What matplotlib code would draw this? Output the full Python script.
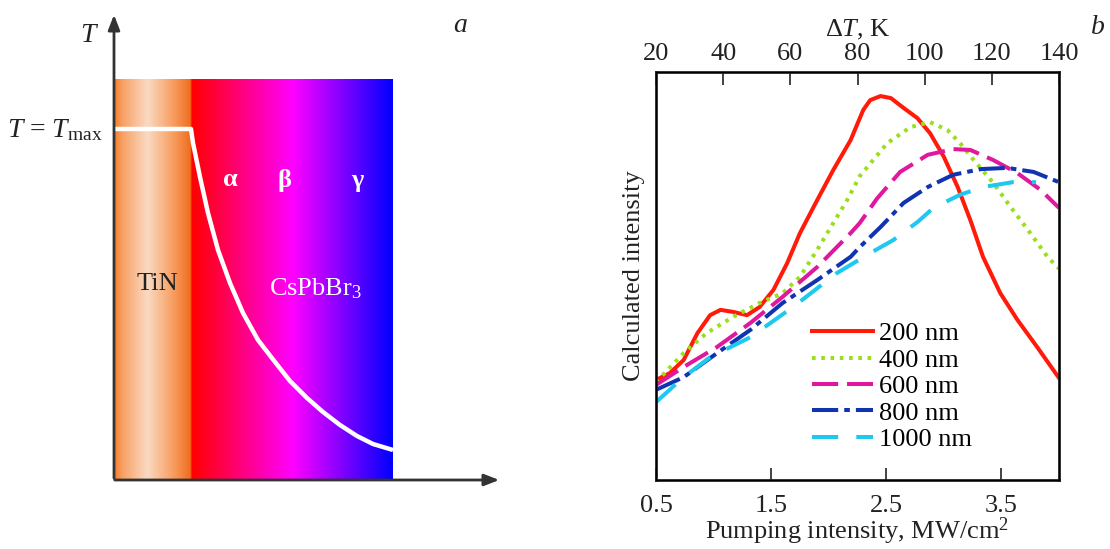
import matplotlib
matplotlib.use("Agg")
import matplotlib.pyplot as plt
import numpy as np

plt.rcParams['font.family'] = ['Liberation Serif', 'DejaVu Serif']
plt.rcParams['mathtext.fontset'] = 'custom'
plt.rcParams['mathtext.rm'] = 'Liberation Serif'
plt.rcParams['mathtext.it'] = 'Liberation Serif:italic'

# panel b data (intensity in arbitrary units 0..1)
x200 = [0.50, 0.62, 0.74, 0.86, 0.97, 1.06, 1.17, 1.29, 1.40, 1.52, 1.64, 1.75, 1.90, 2.04, 2.19, 2.30, 2.36, 2.45,
        2.54, 2.65, 2.77, 2.88, 3.00, 3.12, 3.23, 3.34, 3.49, 3.64, 3.81, 4.00]
y200 = [0.245, 0.262, 0.294, 0.360, 0.404, 0.417, 0.412, 0.404, 0.424, 0.466, 0.532, 0.605, 0.686, 0.760, 0.833,
        0.907, 0.931, 0.941, 0.936, 0.912, 0.887, 0.850, 0.792, 0.718, 0.637, 0.547, 0.458, 0.392, 0.326, 0.250]
x400 = [0.50, 0.74, 0.94, 1.17, 1.40, 1.60, 1.75, 1.90, 2.04, 2.16, 2.27, 2.51, 2.71, 2.88, 3.03, 3.14, 3.26, 3.43,
        3.58, 3.73, 3.90, 4.00]
y400 = [0.240, 0.311, 0.360, 0.400, 0.434, 0.458, 0.498, 0.564, 0.630, 0.686, 0.745, 0.826, 0.865, 0.877, 0.858,
        0.826, 0.784, 0.728, 0.669, 0.613, 0.547, 0.518]
x600 = [0.50, 0.74, 1.03, 1.32, 1.60, 1.90, 2.19, 2.27, 2.42, 2.62, 2.86, 3.08, 3.23, 3.43, 3.64, 3.84, 4.00]
y600 = [0.233, 0.277, 0.326, 0.385, 0.449, 0.522, 0.605, 0.630, 0.690, 0.755, 0.797, 0.811, 0.809, 0.784, 0.752,
        0.711, 0.667]
x800 = [0.50, 0.74, 1.03, 1.32, 1.60, 1.90, 2.19, 2.27, 2.45, 2.65, 2.86, 3.08, 3.32, 3.55, 3.78, 4.00]
y800 = [0.221, 0.252, 0.311, 0.368, 0.434, 0.490, 0.547, 0.571, 0.620, 0.679, 0.718, 0.748, 0.762, 0.765, 0.755,
        0.730]
x1000 = [0.50, 0.74, 0.97, 1.32, 1.69, 2.07, 2.36, 2.56, 2.77, 2.91, 3.14, 3.34, 3.60, 3.80]
y1000 = [0.191, 0.252, 0.301, 0.350, 0.424, 0.507, 0.556, 0.588, 0.632, 0.667, 0.699, 0.718, 0.730, 0.730]

labels = ['200 nm', '400 nm', '600 nm', '800 nm', '1000 nm']
bottom_ticks = [0.5, 1.5, 2.5, 3.5]
top_ticks = [20, 40, 60, 80, 100, 120, 140]

# panel a schematic: temperature profile (pixel coords of the sketch)
curve_x = [114, 191, 193, 200, 208, 218, 230, 243, 258, 275, 290, 307, 323, 340, 357, 373, 393]
curve_y = [129, 129, 143, 177, 213, 250, 283, 313, 340, 362, 381, 398, 412, 425, 436, 444, 450]

fig = plt.figure(figsize=(11.1, 5.49), dpi=100)

# ---------- panel a ----------
axa = fig.add_axes([0, 0, 500 / 1110, 1])
axa.set_xlim(0, 500)
axa.set_ylim(549, 0)
axa.axis('off')

# gradient image: TiN (orange, light in the middle) then red -> magenta -> blue
xs = np.arange(114, 394)
stops_x = [114, 122, 147, 172, 190, 192, 293, 393]
r = np.interp(xs, stops_x, [245, 248, 250, 248, 240, 255, 255, 0])
g = np.interp(xs, stops_x, [125, 160, 218, 160, 110, 0, 0, 0])
b = np.interp(xs, stops_x, [40, 100, 195, 100, 30, 0, 255, 255])
img = np.stack([r, g, b], axis=-1)[None, :, :] / 255.0
axa.imshow(img, extent=(114, 393, 480, 79), aspect='auto', interpolation='bilinear', zorder=1)

axa.plot(curve_x, curve_y, color='white', lw=3.2, zorder=3, solid_capstyle='butt')

axa.annotate('', xy=(114, 12), xytext=(114, 481),
             arrowprops=dict(arrowstyle='-|>,head_width=0.35,head_length=0.9', color='#333333', lw=2),
             annotation_clip=False, zorder=4)
axa.annotate('', xy=(502, 480), xytext=(112, 480),
             arrowprops=dict(arrowstyle='-|>,head_width=0.35,head_length=0.9', color='#333333', lw=2),
             annotation_clip=False, zorder=4)

axa.text(90, 35, '$T$', fontsize=20, ha='center', va='center', color='#222222')
axa.text(103, 130, '$T$ = $T_{\\rm max}$', fontsize=20, ha='right', va='center', color='#222222')
axa.text(460, 26, '$a$', fontsize=20, ha='center', va='center', color='#222222')
axa.text(157, 284, 'TiN', fontsize=19, ha='center', va='center', color='#222222')
axa.text(315, 289, 'CsPbBr$_3$', fontsize=19, ha='center', va='center', color='white')
axa.text(230, 180, 'α', fontsize=19, ha='center', va='center', color='white', fontweight='bold')
axa.text(284, 180, 'β', fontsize=19, ha='center', va='center', color='white', fontweight='bold')
axa.text(357, 181, 'γ', fontsize=19, ha='center', va='center', color='white', fontweight='bold')

# ---------- panel b ----------
ax = fig.add_axes([656 / 1110, (549 - 480) / 549, (1059 - 656) / 1110, (480 - 72) / 549])
ax.plot(x200, y200, color='#ff1a0a', lw=2.9, ls='-', label=labels[0])
ax.plot(x400, y400, color='#99e01a', lw=2.9, ls=(0, (0.9, 1.4)), label=labels[1])
ax.plot(x600, y600, color='#e0189e', lw=2.9, ls=(0, (6.5, 2.2)), label=labels[2])
ax.plot(x800, y800, color='#1034b0', lw=2.9, ls=(0, (6.5, 1.5, 1.4, 1.5)), label=labels[3])
ax.plot(x1000, y1000, color='#1ec8ee', lw=2.9, ls=(0, (6.5, 4.5)), label=labels[4])

ax.set_xlim(0.5, 4.0)
ax.set_ylim(0, 1)
ax.set_xticks(bottom_ticks)
ax.set_xticklabels([str(t) for t in bottom_ticks])
ax.set_yticks([])
ax.tick_params(axis='x', direction='in', length=9, width=1.2, labelsize=19, pad=11, colors='#222222')
for s in ax.spines.values():
    s.set_linewidth(2)
    s.set_color('#222222')
ax.set_xlabel('Pumping intensity, MW/cm$^2$', fontsize=19, labelpad=-1, color='#222222')
ax.set_ylabel('Calculated intensity', fontsize=19, labelpad=8, color='#222222')

axt = ax.twiny()
axt.set_xlim(20, 140)
axt.set_xticks(top_ticks)
axt.tick_params(axis='x', direction='in', length=9, width=1.2, labelsize=19, pad=5, colors='#222222')
axt.set_xlabel('Δ$T$, K', fontsize=19, labelpad=5, color='#222222')

leg = ax.legend(loc='upper left', bbox_to_anchor=(812 / 1110, 1 - 322 / 549), bbox_transform=fig.transFigure,
                frameon=False, fontsize=19, handlelength=2.3, handletextpad=0.25, labelspacing=0.11,
                borderaxespad=0, borderpad=0)

fig.text(1098 / 1110, 1 - 27 / 549, '$b$', fontsize=20, ha='center', va='center', color='#222222')

fig.savefig('out.png', dpi=100)
